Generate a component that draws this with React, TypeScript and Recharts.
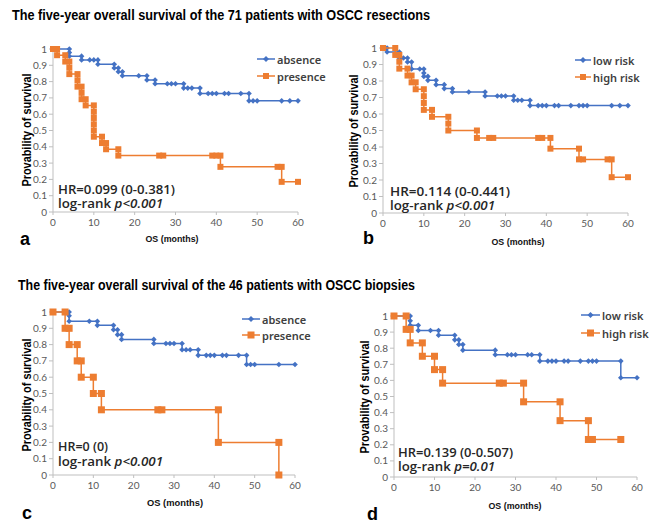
import React from 'react';
import { ScatterChart, Scatter, XAxis, YAxis, Legend } from 'recharts';

const BLUE = '#4472C4';
const ORANGE = '#ED7D31';
const AXIS = '#BFBFBF';
const TICK = '#595959';

const monthTicks = [0, 10, 20, 30, 40, 50, 60];
const survTicks = [0, 0.1, 0.2, 0.3, 0.4, 0.5, 0.6, 0.7, 0.8, 0.9, 1];

// a: resections, lymphatic invasion
const aAbsenceMonths = [0, 4, 4, 4, 7, 7, 9, 10, 11, 11, 15, 15, 16, 16, 17, 17, 21, 23, 23, 25, 25, 28, 29, 30, 32, 32, 33, 34, 36, 36, 38, 39, 40, 42, 43, 46, 48, 48, 49, 50, 56, 58, 60];
const aAbsenceSurv = [1, 1, 0.978, 0.956, 0.956, 0.933, 0.933, 0.933, 0.933, 0.906, 0.906, 0.883, 0.883, 0.86, 0.86, 0.836, 0.836, 0.836, 0.81, 0.81, 0.787, 0.787, 0.787, 0.787, 0.787, 0.76, 0.76, 0.76, 0.76, 0.727, 0.727, 0.727, 0.727, 0.727, 0.727, 0.727, 0.727, 0.682, 0.682, 0.682, 0.682, 0.682, 0.682];
const aPresenceMonths = [0, 1, 1, 3, 3, 4, 4, 4, 6, 6, 6, 7, 7, 7, 8, 8, 10, 10, 10, 10, 10, 10, 12, 12, 13, 13, 16, 16, 26, 27, 39, 40, 41, 41, 55, 56, 56, 60];
const aPresenceSurv = [1, 1, 0.962, 0.962, 0.923, 0.923, 0.885, 0.846, 0.846, 0.808, 0.769, 0.769, 0.731, 0.692, 0.692, 0.654, 0.654, 0.615, 0.577, 0.538, 0.5, 0.462, 0.462, 0.423, 0.423, 0.385, 0.385, 0.346, 0.346, 0.346, 0.346, 0.346, 0.346, 0.277, 0.277, 0.277, 0.185, 0.185];

// b: resections, risk score
const bLowMonths = [0, 1, 1, 4, 4, 5, 6, 6, 7, 7, 9, 10, 10, 10, 11, 11, 13, 13, 15, 15, 17, 17, 21, 25, 25, 28, 29, 30, 32, 32, 33, 34, 36, 36, 38, 39, 40, 42, 43, 46, 48, 49, 50, 56, 58, 60];
const bLowSurv = [1, 1, 0.976, 0.976, 0.939, 0.939, 0.939, 0.915, 0.915, 0.873, 0.873, 0.873, 0.848, 0.828, 0.828, 0.804, 0.804, 0.778, 0.778, 0.754, 0.754, 0.733, 0.733, 0.733, 0.709, 0.709, 0.709, 0.709, 0.709, 0.683, 0.683, 0.683, 0.683, 0.651, 0.651, 0.651, 0.651, 0.651, 0.651, 0.651, 0.651, 0.651, 0.651, 0.651, 0.651, 0.651];
const bHighMonths = [0, 3, 3, 4, 4, 4, 6, 6, 7, 7, 8, 8, 10, 10, 10, 10, 12, 12, 16, 16, 16, 23, 23, 26, 27, 38, 39, 41, 41, 48, 48, 49, 55, 56, 56, 60];
const bHighSurv = [1, 1, 0.958, 0.958, 0.917, 0.875, 0.875, 0.833, 0.833, 0.792, 0.792, 0.75, 0.75, 0.708, 0.667, 0.625, 0.625, 0.583, 0.583, 0.542, 0.5, 0.5, 0.455, 0.455, 0.455, 0.455, 0.455, 0.455, 0.39, 0.39, 0.325, 0.325, 0.325, 0.325, 0.217, 0.217];

// c: biopsies, lymphatic invasion
const cAbsenceMonths = [0, 4, 4, 4, 9, 11, 11, 15, 15, 16, 16, 17, 17, 25, 25, 28, 29, 30, 32, 32, 33, 34, 36, 36, 38, 39, 40, 42, 43, 46, 48, 48, 49, 50, 56, 60];
const cAbsenceSurv = [1, 1, 0.977, 0.943, 0.943, 0.943, 0.918, 0.918, 0.891, 0.891, 0.861, 0.861, 0.832, 0.832, 0.807, 0.807, 0.807, 0.807, 0.807, 0.768, 0.768, 0.768, 0.768, 0.734, 0.734, 0.734, 0.734, 0.734, 0.734, 0.734, 0.734, 0.678, 0.678, 0.678, 0.678, 0.678];
const cPresenceMonths = [0, 3, 3, 4, 4, 6, 6, 7, 7, 10, 10, 12, 12, 26, 27, 41, 41, 56, 56];
const cPresenceSurv = [1, 1, 0.9, 0.9, 0.8, 0.8, 0.7, 0.7, 0.6, 0.6, 0.5, 0.5, 0.4, 0.4, 0.4, 0.4, 0.2, 0.2, 0];

// d: biopsies, risk score
const dLowMonths = [0, 4, 4, 4, 6, 6, 9, 11, 11, 15, 15, 16, 16, 17, 17, 25, 25, 28, 29, 30, 33, 34, 36, 36, 38, 39, 40, 42, 43, 46, 48, 49, 50, 56, 56, 60];
const dLowSurv = [1, 1, 0.97, 0.942, 0.942, 0.91, 0.91, 0.91, 0.88, 0.88, 0.852, 0.852, 0.823, 0.823, 0.788, 0.788, 0.759, 0.759, 0.759, 0.759, 0.759, 0.759, 0.759, 0.72, 0.72, 0.72, 0.72, 0.72, 0.72, 0.72, 0.72, 0.72, 0.72, 0.72, 0.616, 0.616];
const dHighMonths = [0, 3, 3, 4, 4, 7, 7, 10, 10, 12, 12, 26, 27, 32, 32, 41, 41, 48, 48, 49, 56];
const dHighSurv = [1, 1, 0.917, 0.917, 0.833, 0.833, 0.75, 0.75, 0.667, 0.667, 0.583, 0.583, 0.583, 0.583, 0.467, 0.467, 0.35, 0.35, 0.233, 0.233, 0.233];

const zip = (xs: number[], ys: number[]) => xs.map((x, i) => ({ x, y: ys[i] }));

const makeDiamond = (r: number) => (props: any) => {
  const { cx, cy } = props;
  if (cx == null || cy == null) return <g />;
  return <path d={`M${cx},${cy - r}L${cx + r},${cy}L${cx},${cy + r}L${cx - r},${cy}Z`} fill={BLUE} />;
};

const makeSquare = (s: number) => (props: any) => {
  const { cx, cy } = props;
  if (cx == null || cy == null) return <g />;
  return <rect x={cx - s / 2} y={cy - s / 2} width={s} height={s} fill={ORANGE} />;
};

interface PanelProps {
  left: number; top: number; width: number; height: number;
  plot: { x0: number; x1: number; y0: number; y1: number };
  blue: { x: number; y: number }[];
  orange: { x: number; y: number }[];
  names: [string, string];
  legend: { x: number; len: number; y: number; gap: number };
  sq: number;
}

function Panel({ left, top, width, height, plot, blue, orange, names, legend, sq }: PanelProps) {
  const xAxisH = 22;
  const margin = {
    top: plot.y0 - top,
    right: left + width - plot.x1,
    bottom: top + height - plot.y1 - xAxisH,
    left: 0,
  };
  const LegendBox = () => (
    <div style={{ position: 'relative', width: 90, height: 40 }}>
      {[0, 1].map((i) => (
        <div key={i} style={{ position: 'absolute', left: 0, top: i * legend.gap, height: 12, display: 'flex', alignItems: 'center' }}>
          <svg width={legend.len} height={12} style={{ display: 'block' }}>
            <line x1={0} y1={6} x2={legend.len} y2={6} stroke={i === 0 ? BLUE : ORANGE} strokeWidth={1.5} />
            {i === 0
              ? <path d={`M${legend.len / 2},3L${legend.len / 2 + 3},6L${legend.len / 2},9L${legend.len / 2 - 3},6Z`} fill={BLUE} />
              : <rect x={legend.len / 2 - sq / 2} y={6 - sq / 2} width={sq} height={sq} fill={ORANGE} />}
          </svg>
          <span style={{ marginLeft: 2, fontFamily: '"Noto Sans", sans-serif', fontWeight: 600, fontSize: 11, color: '#404040', whiteSpace: 'nowrap' }}>
            {names[i]}
          </span>
        </div>
      ))}
    </div>
  );
  return (
    <div style={{ position: 'absolute', left, top, width, height }}>
      <ScatterChart width={width} height={height} margin={margin}>
        <XAxis
          type="number" dataKey="x" domain={[0, 60]} ticks={monthTicks} interval={0}
          height={xAxisH} tickSize={3} tickMargin={4}
          axisLine={{ stroke: AXIS }} tickLine={{ stroke: AXIS }}
          tick={{ fill: TICK, fontSize: 10, fontFamily: 'Lato, sans-serif' }}
        />
        <YAxis
          type="number" dataKey="y" domain={[0, 1]} ticks={survTicks} interval={0}
          width={plot.x0 - left} tickSize={4} tickMargin={2}
          axisLine={{ stroke: AXIS }} tickLine={{ stroke: AXIS }}
          tick={{ fill: TICK, fontSize: 10, fontFamily: 'Lato, sans-serif' }}
          tickFormatter={(v: number) => String(Math.round(v * 10) / 10)}
        />
        <Legend
          layout="horizontal" verticalAlign="middle" align="center"
          content={<LegendBox />}
          wrapperStyle={{ position: 'absolute', left: legend.x - left, top: legend.y - top - 6, width: 90, height: 40 }}
        />
        <Scatter
          name={names[0]} data={blue} fill={BLUE} shape={makeDiamond(2.8)}
          line={{ stroke: BLUE, strokeWidth: 1.5 }} isAnimationActive={false}
        />
        <Scatter
          name={names[1]} data={orange} fill={ORANGE} shape={makeSquare(sq)}
          line={{ stroke: ORANGE, strokeWidth: 1.5 }} isAnimationActive={false}
        />
      </ScatterChart>
    </div>
  );
}

const sans = '"Liberation Sans", Arial, sans-serif';
const hrFont = '"Open Sans", "Noto Sans", sans-serif';

function Annotations() {
  const yTitles = [[27, 130], [354, 131], [27, 395], [365, 397]];
  const xTitles = [[172, 238], [518, 241], [175, 502], [515, 505]];
  const letters: [string, number, number][] = [['a', 20, 245], ['b', 363, 244], ['c', 22, 519], ['d', 367, 520]];
  const hr: [string, number, number, number][] = [
    ['HR=0.099 (0-0.381)', 58, 193.5, 117],
    ['HR=0.114 (0-0.441)', 390, 196, 120],
    ['HR=0 (0)', 58, 451, 50],
    ['HR=0.139 (0-0.507)', 398, 457, 115],
  ];
  const lr: [string, number, number, number][] = [
    ['p<0.001', 58, 207.5, 105],
    ['p<0.001', 390, 210, 105],
    ['p<0.001', 58, 466, 105],
    ['p=0.01', 398, 471, 97],
  ];
  return (
    <svg width={669} height={529} style={{ position: 'absolute', left: 0, top: 0, pointerEvents: 'none' }}>
      <text x={12} y={19.5} fontFamily={sans} fontWeight={700} fontSize={14} fill="#000" textLength={418} lengthAdjust="spacingAndGlyphs">
        The five-year overall survival of the 71 patients with OSCC resections
      </text>
      <text x={18} y={290} fontFamily={sans} fontWeight={700} fontSize={14} fill="#000" textLength={397} lengthAdjust="spacingAndGlyphs">
        The five-year overall survival of the 46 patients with OSCC biopsies
      </text>
      {yTitles.map(([x, y], i) => (
        <text key={'yt' + i} x={x} y={y} transform={`rotate(-90 ${x} ${y})`} textAnchor="middle" dominantBaseline="central"
          fontFamily={sans} fontWeight={700} fontSize={12} fill="#000" textLength={113} lengthAdjust="spacingAndGlyphs">
          Provability of survival
        </text>
      ))}
      {xTitles.map(([x, y], i) => (
        <text key={'xt' + i} x={x} y={y} textAnchor="middle" dominantBaseline="central"
          fontFamily={sans} fontWeight={700} fontSize={9.5} fill="#111" textLength={i === 2 ? 56 : 53} lengthAdjust="spacingAndGlyphs">
          OS (months)
        </text>
      ))}
      {letters.map(([t, x, y]) => (
        <text key={t} x={x} y={y} fontFamily={sans} fontWeight={700} fontSize={18} fill="#000">{t}</text>
      ))}
      {hr.map(([t, x, y, len], i) => (
        <text key={'hr' + i} x={x} y={y} fontFamily={hrFont} fontWeight={600} fontSize={13} fill="#262626"
          textLength={len} lengthAdjust="spacingAndGlyphs">{t}</text>
      ))}
      {lr.map(([p, x, y, len], i) => (
        <text key={'lr' + i} x={x} y={y} fontFamily={hrFont} fontWeight={600} fontSize={13} fill="#262626"
          textLength={len} lengthAdjust="spacingAndGlyphs">
          log-rank <tspan fontStyle="italic">{p}</tspan>
        </text>
      ))}
    </svg>
  );
}

export default function App() {
  return (
    <div style={{ position: 'absolute', left: 0, top: 0, width: 669, height: 529, background: '#fff', overflow: 'hidden' }}>
      <Panel
        left={0} top={30} width={330} height={230}
        plot={{ x0: 53, x1: 298, y0: 49, y1: 212 }}
        blue={zip(aAbsenceMonths, aAbsenceSurv)} orange={zip(aPresenceMonths, aPresenceSurv)}
        names={['absence', 'presence']} legend={{ x: 257, len: 18, y: 59, gap: 17 }} sq={6}
      />
      <Panel
        left={330} top={30} width={339} height={230}
        plot={{ x0: 383, x1: 628, y0: 48, y1: 213 }}
        blue={zip(bLowMonths, bLowSurv)} orange={zip(bHighMonths, bHighSurv)}
        names={['low risk', 'high risk']} legend={{ x: 575, len: 16, y: 60, gap: 17 }} sq={6}
      />
      <Panel
        left={0} top={300} width={330} height={229}
        plot={{ x0: 53, x1: 295, y0: 312, y1: 475 }}
        blue={zip(cAbsenceMonths, cAbsenceSurv)} orange={zip(cPresenceMonths, cPresenceSurv)}
        names={['absence', 'presence']} legend={{ x: 242, len: 18, y: 319, gap: 16 }} sq={7}
      />
      <Panel
        left={330} top={300} width={339} height={229}
        plot={{ x0: 394, x1: 637, y0: 316, y1: 477 }}
        blue={zip(dLowMonths, dLowSurv)} orange={zip(dHighMonths, dHighSurv)}
        names={['low risk', 'high risk']} legend={{ x: 581, len: 19, y: 315, gap: 18 }} sq={7}
      />
      <Annotations />
    </div>
  );
}
